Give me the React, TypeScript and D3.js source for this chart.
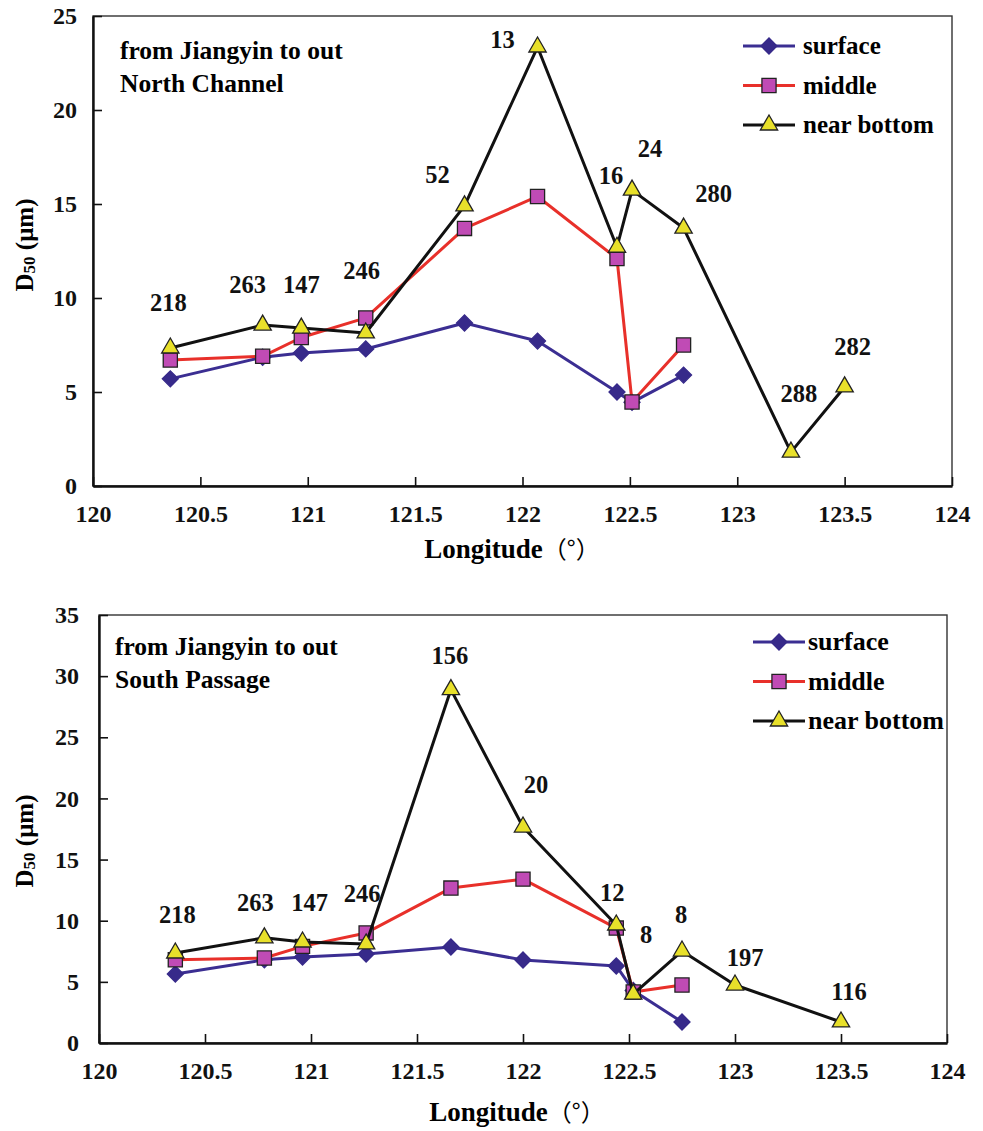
import { useEffect, useRef } from "react";
import * as d3 from "d3";

// North Channel (top panel)
const northLon = [120.36, 120.79, 120.97, 121.27, 121.73, 122.07, 122.44, 122.51, 122.75, 123.25, 123.5];
const northSurface = [5.7, 6.85, 7.07, 7.29, 8.67, 7.71, 5.0, 4.45, 5.9, null, null];
const northMiddle = [6.7, 6.9, 7.9, 8.94, 13.7, 15.4, 12.1, 4.47, 7.5, null, null];
const northBottom = [7.34, 8.56, 8.4, 8.14, 14.9, 23.35, 12.7, 15.74, 13.72, 1.8, 5.27];
const northLabels = ["218", "263", "147", "246", "52", "13", "16", "24", "280", "288", "282"];

// South Passage (bottom panel)
const southLon = [120.36, 120.78, 120.96, 121.26, 121.66, 122.0, 122.44, 122.52, 122.75, 123.0, 123.5];
const southSurface = [5.64, 6.8, 7.03, 7.28, 7.85, 6.79, 6.3, 4.3, 1.72, null, null];
const southMiddle = [6.8, 6.95, 7.9, 9.0, 12.67, 13.4, 9.4, 4.17, 4.74, null, null];
const southBottom = [7.36, 8.6, 8.26, 8.1, 28.9, 17.66, 9.65, 4.0, 7.52, 4.74, 1.72];
const southLabels = ["218", "263", "147", "246", "156", "20", "12", "8", "8", "197", "116"];

const seriesNames = ["surface", "middle", "near bottom"];
const xTicks = [120, 120.5, 121, 121.5, 122, 122.5, 123, 123.5, 124];

// pixel nudges for the station labels (placed by hand in the original)
const northLabelShift = [[-2, -37], [-15, -32], [0, -35], [-4, -54], [-27, -23], [-35, 1], [-6, -63], [18, -33], [30, -26], [8, -50], [8, -32]];
const southLabelShift = [[2, -30], [-9, -27], [7, -31], [-4, -42], [-1, -26], [13, -34], [-4, -24], [13, -51], [-1, -28], [10, -19], [8, -22]];

const FONT = "Liberation Serif, Times New Roman, serif";

const styles = [
  { line: "#3b2e92", fill: "#372a8a", stroke: "#372a8a", symbol: "diamond" },
  { line: "#e8302a", fill: "#c04bb5", stroke: "#222", symbol: "square" },
  { line: "#111", fill: "#e8e02a", stroke: "#222", symbol: "triangle" },
];

function markerPath(kind) {
  if (kind === "diamond") return d3.symbol().type(d3.symbolSquare).size(128)();
  if (kind === "square") return d3.symbol().type(d3.symbolSquare).size(200)();
  return d3.symbol().type(d3.symbolTriangle).size(130)();
}

function serif(sel, size) {
  return sel
    .attr("font-family", FONT)
    .style("font-family", FONT)
    .attr("font-weight", "bold")
    .style("font-weight", "bold")
    .style("font-size", size);
}

function drawPanel(svg, p) {
  const x = d3.scaleLinear().domain([120, 124]).range([p.left, p.right]);
  const y = d3.scaleLinear().domain([0, p.yMax]).range([p.bottom, p.top]);

  // plot frame
  svg.append("rect")
    .attr("x", p.left).attr("y", p.top)
    .attr("width", p.right - p.left).attr("height", p.bottom - p.top)
    .attr("fill", "none").attr("stroke", "#333").attr("stroke-width", 1.4);

  const xAxis = svg.append("g")
    .attr("transform", `translate(0,${p.bottom})`)
    .call(d3.axisBottom(x).tickValues(xTicks).tickFormat(d3.format("")).tickSizeInner(-9).tickSizeOuter(0).tickPadding(19));
  const yAxis = svg.append("g")
    .attr("transform", `translate(${p.left},0)`)
    .call(d3.axisLeft(y).ticks(p.yMax / 5).tickSizeInner(-9).tickSizeOuter(0).tickPadding(p.yPad));
  [xAxis, yAxis].forEach((g) => {
    g.attr("font-family", FONT);
    g.select(".domain").attr("stroke", "#111").attr("stroke-width", 2.4);
    g.selectAll(".tick line").attr("stroke", "#111").attr("stroke-width", 1.6);
    serif(g.selectAll("text").attr("fill", "#111"), "24px");
  });

  // axis titles
  const xt = serif(svg.append("text"), "27px")
    .attr("x", p.xTitleX).attr("y", p.xTitleY)
    .attr("text-anchor", "middle");
  xt.append("tspan").text("Longitude");
  xt.append("tspan")
    .style("font-family", "Noto Sans CJK SC")
    .style("font-weight", "normal")
    .style("font-size", "24px")
    .text("（°）");

  const yt = serif(svg.append("text"), "25px")
    .attr("transform", `translate(${p.yTitleX},${p.yTitleY}) rotate(-90)`)
    .attr("text-anchor", "middle")
    .attr("dominant-baseline", "central");
  yt.append("tspan").text("D");
  yt.append("tspan").attr("dy", 5).style("font-size", "17px").text("50");
  yt.append("tspan").attr("dy", -5).text(" (μm)");

  // annotation
  p.note.forEach((t, i) => {
    serif(svg.append("text"), "25.5px")
      .attr("x", p.noteX).attr("y", p.noteY + i * 33)
      .text(t);
  });

  // series
  p.series.forEach((vals, si) => {
    const st = styles[si];
    const pts = p.lon.map((lon, i) => ({ lon, v: vals[i] })).filter((d) => d.v != null);
    const line = d3.line().x((d) => x(d.lon)).y((d) => y(d.v));
    svg.append("path")
      .datum(pts)
      .attr("fill", "none")
      .attr("stroke", st.line)
      .attr("stroke-width", 3)
      .attr("stroke-linejoin", "round")
      .attr("d", line);
    svg.selectAll(null)
      .data(pts)
      .enter()
      .append("path")
      .attr("d", markerPath(st.symbol))
      .attr("transform", (d) => `translate(${x(d.lon)},${y(d.v)})` + (st.symbol === "diamond" ? " rotate(45)" : ""))
      .attr("fill", st.fill)
      .attr("stroke", st.stroke)
      .attr("stroke-width", 1.3);
  });

  // station labels on near-bottom points
  p.labels.forEach((lab, i) => {
    serif(svg.append("text"), "24.5px")
      .attr("x", x(p.lon[i]) + p.shift[i][0])
      .attr("y", y(p.series[2][i]) + p.shift[i][1])
      .attr("text-anchor", "middle")
      .attr("fill", "#111")
      .text(lab);
  });

  // legend
  seriesNames.forEach((name, i) => {
    const st = styles[i];
    const ly = p.legendY + i * p.legendGap;
    svg.append("line")
      .attr("x1", p.legendX).attr("x2", p.legendX + 52)
      .attr("y1", ly).attr("y2", ly)
      .attr("stroke", st.line).attr("stroke-width", 3);
    svg.append("path")
      .attr("d", markerPath(st.symbol))
      .attr("transform", `translate(${p.legendX + 26},${ly})` + (st.symbol === "diamond" ? " rotate(45)" : ""))
      .attr("fill", st.fill).attr("stroke", st.stroke).attr("stroke-width", 1.3);
    serif(svg.append("text"), p.legendFont)
      .attr("x", p.legendTextX).attr("y", ly + 8)
      .text(name);
  });
}

export default function App() {
  const ref = useRef(null);

  useEffect(() => {
    const svg = d3.select(ref.current);
    svg.selectAll("*").remove();
    drawPanel(svg, {
      left: 93, right: 952, top: 16, bottom: 486, yMax: 25, yPad: 16,
      lon: northLon, series: [northSurface, northMiddle, northBottom],
      labels: northLabels, shift: northLabelShift,
      note: ["from Jiangyin to out", "North Channel"], noteX: 120, noteY: 59,
      legendX: 743, legendY: 46, legendGap: 39.5, legendFont: "25px", legendTextX: 803,
      xTitleX: 512, xTitleY: 558, yTitleX: 24, yTitleY: 245,
    });
    drawPanel(svg, {
      left: 99, right: 947, top: 615, bottom: 1043, yMax: 35, yPad: 20,
      lon: southLon, series: [southSurface, southMiddle, southBottom],
      labels: southLabels, shift: southLabelShift,
      note: ["from Jiangyin to out", "South Passage"], noteX: 115, noteY: 655,
      legendX: 753, legendY: 642, legendGap: 39.5, legendFont: "26px", legendTextX: 808,
      xTitleX: 517, xTitleY: 1121, yTitleX: 24, yTitleY: 841,
    });
  }, []);

  return (
    <svg
      ref={ref}
      width={983}
      height={1131}
      style={{ position: "absolute", left: 0, top: 0, background: "#fff" }}
    />
  );
}
